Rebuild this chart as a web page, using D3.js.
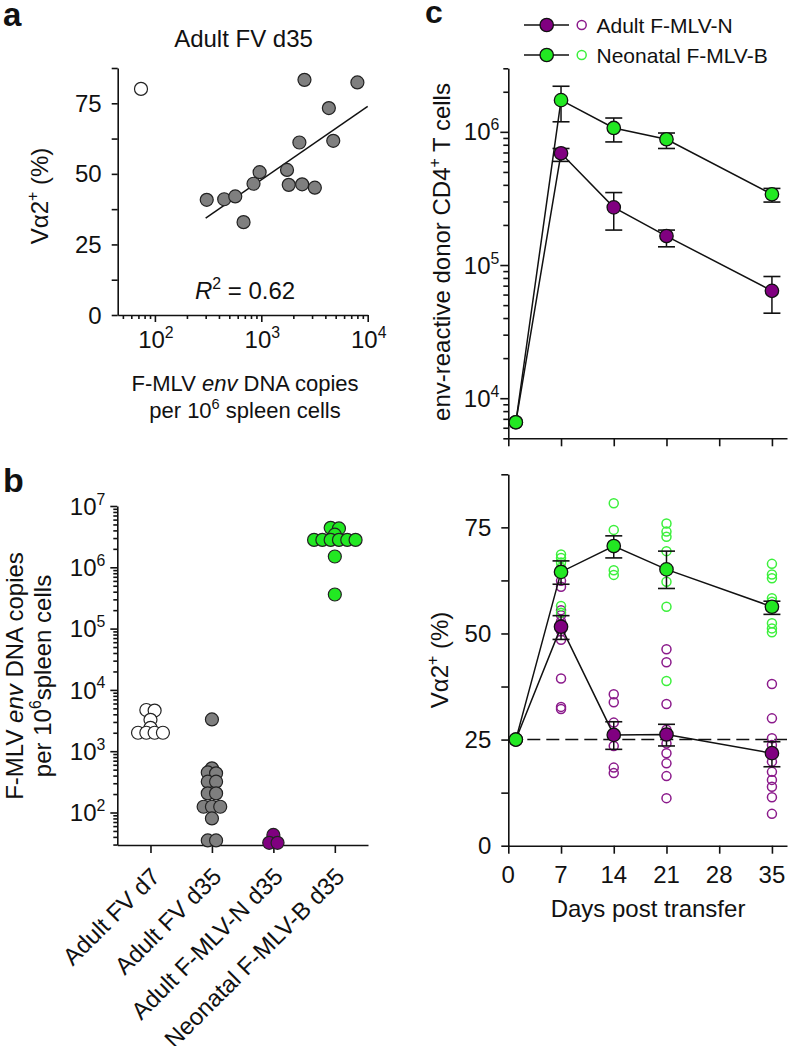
<!DOCTYPE html>
<html><head><meta charset="utf-8">
<script src="https://cdn.jsdelivr.net/npm/d3@7"></script>
<style>
body{margin:0;background:#fff}
svg text{font-family:"Liberation Sans",Arial,Helvetica,sans-serif;fill:#111}
</style>
</head><body>
<svg id="chart" width="788" height="1046"></svg>
<script>
// ---------------- DATA ----------------
// Panel a: Adult FV d35, Va2+ % vs F-MLV env DNA copies
const aGrayX = [307, 448, 569, 681, 845, 964, 1745, 1811, 2280, 2420, 2545, 3185, 4315, 4745, 8000];
const aGrayY = [40.8, 41.0, 42.0, 32.9, 46.5, 50.6, 51.4, 46.1, 61.1, 46.3, 83.3, 45.1, 73.3, 61.7, 82.4];
const aOpenX = [74];
const aOpenY = [80.1];
const aFitX = [300, 10000];
const aFitY = [34.3, 73.9];
const aR2 = "0.62";
const aXTickExp = [2, 3, 4];
const aYTicks = [0, 25, 50, 75];

// Panel b: F-MLV env DNA copies per 10^6 spleen cells
const bCategories = ["Adult FV d7", "Adult FV d35", "Adult F-MLV-N d35", "Neonatal F-MLV-B d35"];
const bAdultD7 = [4700, 4600, 3250, 2400, 2000, 2000, 2000, 2000];
const bAdultD35 = [3300, 525, 450, 436, 318, 318, 205, 205, 124, 124, 124, 80, 35, 35];
const bAdultN = [43, 32, 32];
const bNeoB = [4.4e6, 4.3e6, 3.4e6, 2.8e6, 2.8e6, 2.8e6, 2.8e6, 2.8e6, 2.8e6, 1.5e6, 3.6e5];
const bYTickExp = [2, 3, 4, 5, 6, 7];

// Panel c: time course
const cSeries = ["Adult F-MLV-N", "Neonatal F-MLV-B"];
const cDays = [1, 7, 14, 21, 35];
const cXTicks = [0, 7, 14, 21, 28, 35];
const cNCount   = [6600, 6.9e5, 2.71e5, 1.65e5, 6.4e4];
const cNCountHi = [6600, 7.5e5, 3.5e5, 1.83e5, 8.2e4];
const cNCountLo = [6600, 6.0e5, 1.83e5, 1.37e5, 4.35e4];
const cBCount   = [6600, 1.73e6, 1.07e6, 8.8e5, 3.4e5];
const cBCountHi = [6600, 2.2e6, 1.27e6, 9.8e5, 3.76e5];
const cBCountLo = [6600, 1.19e6, 8.4e5, 7.5e5, 2.97e5];
const cYTopExp = [4, 5, 6];
const cNPct   = [25, 51.6, 26.1, 26.2, 21.8];
const cNPctHi = [25, 54.2, 29.2, 28.6, 24.5];
const cNPctLo = [25, 48.6, 22.7, 23.5, 18.6];
const cBPct   = [25, 64.5, 70.6, 65.1, 56.3];
const cBPctHi = [25, 67.1, 73.0, 69.4, 57.6];
const cBPctLo = [25, 61.6, 67.8, 60.6, 54.5];
const cIndivDays = [7, 14, 21, 35];
const cNIndiv = [
  [62.4, 61.0, 55.5, 54.3, 52.8, 50.5, 48.5, 39.4, 32.7, 32.2],
  [35.7, 33.8, 29.0, 23.5, 18.4, 17.1],
  [46.3, 43.2, 33.4, 27.3, 24.1, 21.8, 19.4, 16.4, 11.2],
  [38.1, 30.0, 25.3, 23.7, 21.8, 19.8, 17.4, 15.5, 13.9, 11.4, 7.5]
];
const cBIndiv = [
  [68.6, 67.8, 66.7, 65.5, 56.5, 54.9],
  [80.7, 74.4, 64.9, 63.8],
  [75.9, 74.0, 72.8, 69.4, 62.2, 56.3, 38.8],
  [66.4, 63.9, 63.0, 58.3, 57.5, 52.4, 51.2, 50.3]
];
const cBaseline = 25;

// ---------------- STYLE ----------------
const PURPLE = "#800080", GREEN = "#22e822", GRAY = "#7f7f7f";
const OPEN_PURPLE = "#8b1a8b", OPEN_GREEN = "#3cf03c";
const TICK_F = 24, LAB_F = 24, LEG_F = 21;
const AX_W = 1.6;

const svg = d3.select("#chart");

function rich(sel, parts, F) {
  let raised = false;
  parts.forEach(p => {
    const ts = sel.append("tspan").text(p.t);
    if (p.italic) ts.attr("font-style", "italic");
    if (p.sup) {
      ts.attr("font-size", (0.66 * F) + "px");
      if (!raised) { ts.attr("dy", -0.42 * F); raised = true; }
    } else if (raised) { ts.attr("dy", 0.42 * F); raised = false; }
  });
  return sel;
}
function styleAxis(g) {
  g.select(".domain").attr("stroke", "#111").attr("stroke-width", AX_W);
  g.selectAll(".tick line").attr("stroke", "#111").attr("stroke-width", AX_W);
}
function logMinors(lo, hi) {
  const out = [];
  for (let e = Math.floor(Math.log10(lo)); e <= Math.ceil(Math.log10(hi)); e++) {
    for (let k = 2; k <= 9; k++) { const v = k * Math.pow(10, e); if (v >= lo * 0.999 && v <= hi * 1.001) out.push(v); }
  }
  return out;
}
function swarm(values, y, step) {
  const pts = values.map(v => ({ v, y: y(v) })).sort((a, b) => a.y - b.y);
  const rows = []; let cur = [];
  pts.forEach(p => {
    if (cur.length && Math.abs(p.y - cur[cur.length - 1].y) > 2.5) { rows.push(cur); cur = []; }
    cur.push(p);
  });
  if (cur.length) rows.push(cur);
  rows.forEach(r => r.forEach((p, i) => p.dx = (i - (r.length - 1) / 2) * step));
  return pts;
}
function panelLetter(x, y, t, size) {
  svg.append("text").attr("x", x).attr("y", y).attr("font-size", size + "px").attr("font-weight", "bold").text(t);
}

// ================ PANEL A ================
panelLetter(3, 26, "a", 33);
const ax = d3.scaleLog().domain([44.7, 1e4]).range([117.7, 367.7]);
const ay = d3.scaleLinear().domain([0, 87.5]).range([315, 68]);
{
  const g = svg.append("g");
  const gy = g.append("g").attr("transform", `translate(${ax.range()[0]},0)`)
    .call(d3.axisLeft(ay).tickValues([0, 12.5, 25, 37.5, 50, 62.5, 75, 87.5]).tickSize(6).tickSizeOuter(0).tickFormat(""));
  styleAxis(gy);
  aYTicks.forEach(v => g.append("text").attr("x", ax.range()[0] - 16).attr("y", ay(v)).attr("dy", "0.36em")
    .attr("text-anchor", "end").attr("font-size", TICK_F + "px").text(v));
  const gxMin = g.append("g").attr("transform", `translate(0,${ay(0)})`)
    .call(d3.axisBottom(ax).tickValues(logMinors(44.7, 1e4)).tickSize(4).tickSizeOuter(0).tickFormat(""));
  styleAxis(gxMin);
  const gxMaj = g.append("g").attr("transform", `translate(0,${ay(0)})`)
    .call(d3.axisBottom(ax).tickValues(aXTickExp.map(e => Math.pow(10, e))).tickSize(7).tickSizeOuter(0).tickFormat(""));
  styleAxis(gxMaj); gxMaj.select(".domain").remove();
  aXTickExp.forEach(e => rich(g.append("text").attr("x", ax(Math.pow(10, e)) + 1).attr("y", 348)
    .attr("text-anchor", "middle").attr("font-size", TICK_F + "px"), [{ t: "10" }, { t: String(e), sup: true }], TICK_F));

  g.append("text").attr("x", 243.5).attr("y", 47).attr("text-anchor", "middle").attr("font-size", LAB_F + "px").text("Adult FV d35");
  rich(g.append("text").attr("transform", "translate(48,196) rotate(-90)").attr("text-anchor", "middle").attr("font-size", LAB_F + "px"),
    [{ t: "Vα2" }, { t: "+", sup: true }, { t: " (%)" }], LAB_F);
  rich(g.append("text").attr("x", 245).attr("y", 391).attr("text-anchor", "middle").attr("font-size", "22px"),
    [{ t: "F-MLV " }, { t: "env", italic: true }, { t: " DNA copies" }], 22);
  rich(g.append("text").attr("x", 245).attr("y", 418).attr("text-anchor", "middle").attr("font-size", "22px"),
    [{ t: "per 10" }, { t: "6", sup: true }, { t: " spleen cells" }], 22);
  rich(g.append("text").attr("x", 245).attr("y", 299).attr("text-anchor", "middle").attr("font-size", LAB_F + "px"),
    [{ t: "R", italic: true }, { t: "2", sup: true }, { t: " = " + aR2 }], LAB_F);

  g.append("path").datum(d3.zip(aFitX, aFitY)).attr("fill", "none").attr("stroke", "#111").attr("stroke-width", 1.5)
    .attr("d", d3.line().x(d => ax(d[0])).y(d => ay(d[1])));
  g.selectAll("circle.gray").data(d3.zip(aGrayX, aGrayY)).join("circle").attr("class", "gray")
    .attr("cx", d => ax(d[0])).attr("cy", d => ay(d[1])).attr("r", 6.5)
    .attr("fill", GRAY).attr("stroke", "#222").attr("stroke-width", 1.2);
  g.selectAll("circle.open").data(d3.zip(aOpenX, aOpenY)).join("circle").attr("class", "open")
    .attr("cx", d => ax(d[0])).attr("cy", d => ay(d[1])).attr("r", 6.5)
    .attr("fill", "#fff").attr("stroke", "#222").attr("stroke-width", 1.2);
}

// ================ PANEL B ================
panelLetter(3, 492, "b", 34);
const bx = d3.scalePoint().domain(bCategories).range([117.3, 368]).padding(0.54);
const by = d3.scaleLog().domain([29.5, 1e7]).range([845, 506]);
{
  const g = svg.append("g");
  const gyMin = g.append("g").attr("transform", `translate(${bx.range()[0]},0)`)
    .call(d3.axisLeft(by).tickValues(logMinors(29.5, 1e7)).tickSize(4).tickSizeOuter(0).tickFormat(""));
  styleAxis(gyMin);
  const gyMaj = g.append("g").attr("transform", `translate(${bx.range()[0]},0)`)
    .call(d3.axisLeft(by).tickValues(bYTickExp.map(e => Math.pow(10, e))).tickSize(7).tickSizeOuter(0).tickFormat(""));
  styleAxis(gyMaj); gyMaj.select(".domain").remove();
  bYTickExp.forEach(e => rich(g.append("text").attr("x", bx.range()[0] - 12).attr("y", by(Math.pow(10, e))).attr("dy", "0.36em")
    .attr("text-anchor", "end").attr("font-size", TICK_F + "px"), [{ t: "10" }, { t: String(e), sup: true }], TICK_F));
  const gx = g.append("g").attr("transform", `translate(0,${by.range()[0]})`)
    .call(d3.axisBottom(bx).tickSize(8).tickSizeOuter(0).tickFormat(""));
  styleAxis(gx);
  bCategories.forEach(c => g.append("text").attr("transform", `translate(${bx(c) + 11},${878}) rotate(-45)`)
    .attr("text-anchor", "end").attr("font-size", LAB_F + "px").text(c));

  rich(g.append("text").attr("transform", "translate(23,676) rotate(-90)").attr("text-anchor", "middle").attr("font-size", LAB_F + "px"),
    [{ t: "F-MLV " }, { t: "env", italic: true }, { t: " DNA copies" }], LAB_F);
  rich(g.append("text").attr("transform", "translate(51,676) rotate(-90)").attr("text-anchor", "middle").attr("font-size", LAB_F + "px"),
    [{ t: "per 10" }, { t: "6", sup: true }, { t: "spleen cells" }], LAB_F);

  const groups = [
    { vals: bAdultD7, fill: "#fff" },
    { vals: bAdultD35, fill: GRAY },
    { vals: bAdultN, fill: PURPLE },
    { vals: bNeoB, fill: GREEN }
  ];
  groups.forEach((grp, i) => {
    const pts = swarm(grp.vals, by, 8.3);
    g.selectAll(null).data(pts).join("circle")
      .attr("cx", d => bx(bCategories[i]) + d.dx).attr("cy", d => by(d.v)).attr("r", 6.5)
      .attr("fill", grp.fill).attr("stroke", "#222").attr("stroke-width", 1.2);
  });
}

// ================ PANEL C ================
panelLetter(425, 23, "c", 32);
const cx = d3.scaleLinear().domain([0, 37]).range([508.3, 787]);
const cyTop = d3.scaleLog().domain([5000, 3e6]).range([438.3, 68.3]);
const cyBot = d3.scaleLinear().domain([0, 87.5]).range([845.7, 474.3]);

function errBars(g, x, y, mean, hi, lo) {
  cDays.forEach((d, i) => {
    if (hi[i] === lo[i]) return;
    const X = x(d);
    g.append("line").attr("x1", X).attr("x2", X).attr("y1", y(hi[i])).attr("y2", y(lo[i])).attr("stroke", "#111").attr("stroke-width", 1.5);
    [hi[i], lo[i]].forEach(v => g.append("line").attr("x1", X - 8.5).attr("x2", X + 8.5).attr("y1", y(v)).attr("y2", y(v))
      .attr("stroke", "#111").attr("stroke-width", 1.6));
  });
}
function seriesLine(g, x, y, vals) {
  g.append("path").datum(d3.zip(cDays, vals)).attr("fill", "none").attr("stroke", "#111").attr("stroke-width", 1.5)
    .attr("d", d3.line().x(d => x(d[0])).y(d => y(d[1])));
}
function meanDots(g, x, y, vals, fill) {
  g.selectAll(null).data(d3.zip(cDays, vals)).join("circle")
    .attr("cx", d => x(d[0])).attr("cy", d => y(d[1])).attr("r", 6.7)
    .attr("fill", fill).attr("stroke", "#111").attr("stroke-width", 1.3);
}

// legend
{
  const g = svg.append("g");
  const rows = [{ name: cSeries[0], fill: PURPLE, open: OPEN_PURPLE, y: 25 }, { name: cSeries[1], fill: GREEN, open: OPEN_GREEN, y: 55 }];
  rows.forEach(r => {
    g.append("line").attr("x1", 524).attr("x2", 569).attr("y1", r.y).attr("y2", r.y).attr("stroke", "#111").attr("stroke-width", 1.6);
    g.append("circle").attr("cx", 546.7).attr("cy", r.y).attr("r", 6.7).attr("fill", r.fill).attr("stroke", "#111").attr("stroke-width", 1.3);
    g.append("circle").attr("cx", 581.7).attr("cy", r.y).attr("r", 4.5).attr("fill", "none").attr("stroke", r.open).attr("stroke-width", 1.5);
    g.append("text").attr("x", 596.5).attr("y", r.y).attr("dy", "0.36em").attr("font-size", LEG_F + "px").text(r.name);
  });
}

// top panel
{
  const g = svg.append("g");
  const gyMin = g.append("g").attr("transform", `translate(${cx(0)},0)`)
    .call(d3.axisLeft(cyTop).tickValues(logMinors(5000, 3e6)).tickSize(5).tickSizeOuter(0).tickFormat(""));
  styleAxis(gyMin);
  const gyMaj = g.append("g").attr("transform", `translate(${cx(0)},0)`)
    .call(d3.axisLeft(cyTop).tickValues(cYTopExp.map(e => Math.pow(10, e))).tickSize(8).tickSizeOuter(0).tickFormat(""));
  styleAxis(gyMaj); gyMaj.select(".domain").remove();
  cYTopExp.forEach(e => rich(g.append("text").attr("x", cx(0) - 9).attr("y", cyTop(Math.pow(10, e))).attr("dy", "0.36em")
    .attr("text-anchor", "end").attr("font-size", TICK_F + "px"), [{ t: "10" }, { t: String(e), sup: true }], TICK_F));
  const gx = g.append("g").attr("transform", `translate(0,${cyTop.range()[0]})`)
    .call(d3.axisBottom(cx).tickValues(cXTicks).tickSize(8).tickSizeOuter(0).tickFormat(""));
  styleAxis(gx);
  rich(g.append("text").attr("transform", "translate(450,252) rotate(-90)").attr("text-anchor", "middle").attr("font-size", LAB_F + "px"),
    [{ t: "env-reactive donor CD4" }, { t: "+", sup: true }, { t: " T cells" }], LAB_F);

  seriesLine(g, cx, cyTop, cNCount);
  seriesLine(g, cx, cyTop, cBCount);
  errBars(g, cx, cyTop, cNCount, cNCountHi, cNCountLo);
  errBars(g, cx, cyTop, cBCount, cBCountHi, cBCountLo);
  meanDots(g, cx, cyTop, cNCount, PURPLE);
  meanDots(g, cx, cyTop, cBCount, GREEN);
}

// bottom panel
{
  const g = svg.append("g");
  const gy = g.append("g").attr("transform", `translate(${cx(0)},0)`)
    .call(d3.axisLeft(cyBot).tickValues([0, 12.5, 25, 37.5, 50, 62.5, 75, 87.5]).tickSize(7).tickSizeOuter(0).tickFormat(""));
  styleAxis(gy);
  [0, 25, 50, 75].forEach(v => g.append("text").attr("x", cx(0) - 17).attr("y", cyBot(v)).attr("dy", "0.36em")
    .attr("text-anchor", "end").attr("font-size", TICK_F + "px").text(v));
  const gx = g.append("g").attr("transform", `translate(0,${cyBot(0)})`)
    .call(d3.axisBottom(cx).tickValues(cXTicks).tickSize(8).tickSizeOuter(0).tickFormat(""));
  styleAxis(gx);
  cXTicks.forEach(v => g.append("text").attr("x", cx(v)).attr("y", 883).attr("text-anchor", "middle").attr("font-size", TICK_F + "px").text(v));
  g.append("text").attr("x", 648).attr("y", 917).attr("text-anchor", "middle").attr("font-size", LAB_F + "px").text("Days post transfer");
  rich(g.append("text").attr("transform", "translate(448,660) rotate(-90)").attr("text-anchor", "middle").attr("font-size", LAB_F + "px"),
    [{ t: "Vα2" }, { t: "+", sup: true }, { t: " (%)" }], LAB_F);

  g.append("line").attr("x1", cx(0)).attr("x2", cx.range()[1]).attr("y1", cyBot(cBaseline)).attr("y2", cyBot(cBaseline))
    .attr("stroke", "#111").attr("stroke-width", 1.5).attr("stroke-dasharray", "13,6");

  cIndivDays.forEach((d, i) => {
    g.selectAll(null).data(cNIndiv[i]).join("circle").attr("cx", cx(d)).attr("cy", v => cyBot(v)).attr("r", 4.5)
      .attr("fill", "none").attr("stroke", OPEN_PURPLE).attr("stroke-width", 1.5);
    g.selectAll(null).data(cBIndiv[i]).join("circle").attr("cx", cx(d)).attr("cy", v => cyBot(v)).attr("r", 4.5)
      .attr("fill", "none").attr("stroke", OPEN_GREEN).attr("stroke-width", 1.5);
  });
  seriesLine(g, cx, cyBot, cNPct);
  seriesLine(g, cx, cyBot, cBPct);
  errBars(g, cx, cyBot, cNPct, cNPctHi, cNPctLo);
  errBars(g, cx, cyBot, cBPct, cBPctHi, cBPctLo);
  meanDots(g, cx, cyBot, cNPct, PURPLE);
  meanDots(g, cx, cyBot, cBPct, GREEN);
}
</script>
</body></html>
